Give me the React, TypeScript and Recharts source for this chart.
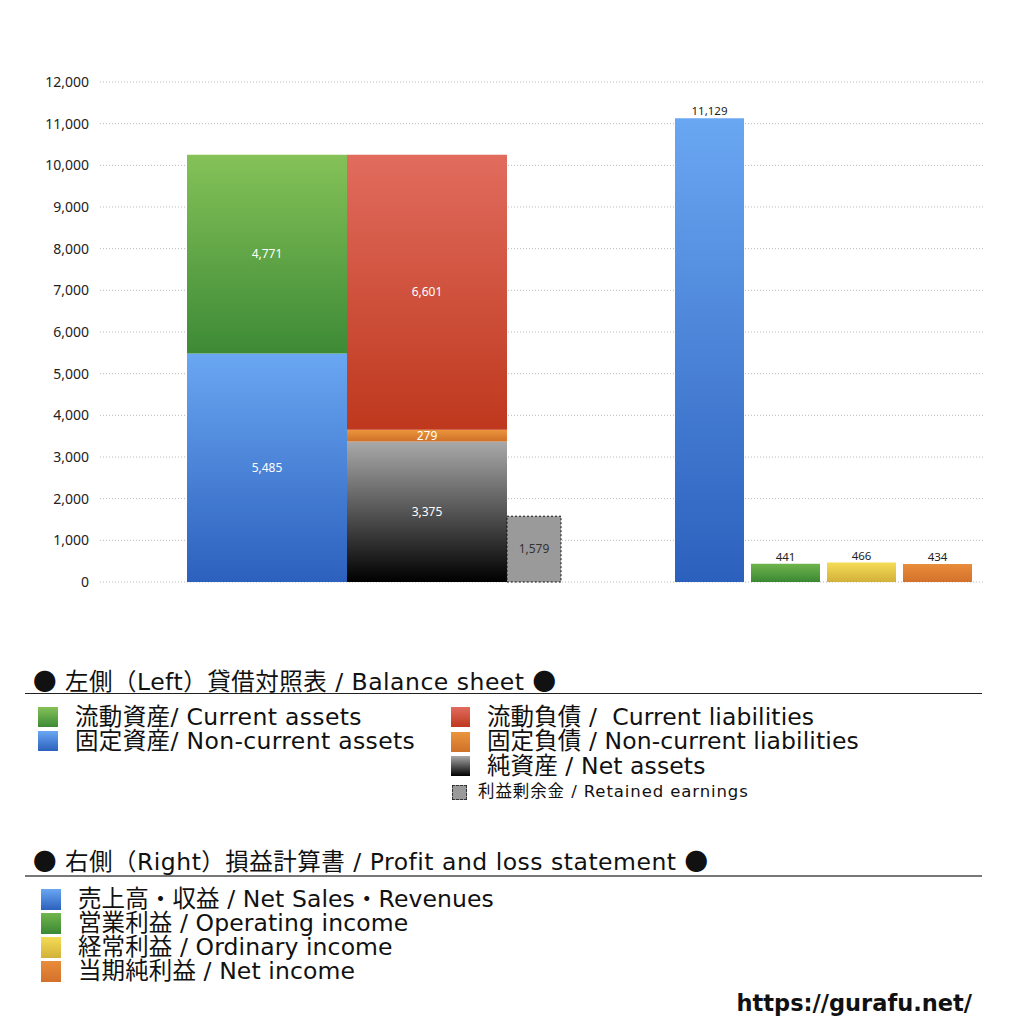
import React from 'react';
import { BarChart, Bar, XAxis, YAxis, CartesianGrid, LabelList } from 'recharts';

const categories = ['BS / PL'];
const nonCurrentAssets = [5485];
const currentAssets = [4771];
const netAssets = [3375];
const nonCurrentLiabilities = [279];
const currentLiabilities = [6601];
const retainedEarnings = [1579];
const netSales = [11129];
const operatingIncome = [441];
const ordinaryIncome = [466];
const netIncome = [434];
const yTicks = [0, 1000, 2000, 3000, 4000, 5000, 6000, 7000, 8000, 9000, 10000, 11000, 12000];

const headingLeft = '左側（Left）貸借対照表 / Balance sheet';
const headingRight = '右側（Right）損益計算書 / Profit and loss statement';
const leftColLabels = ['流動資産/ Current assets', '固定資産/ Non-current assets'];
const rightColLabels = ['流動負債 /  Current liabilities', '固定負債 / Non-current liabilities', '純資産 / Net assets'];
const retainedLabel = '利益剰余金 / Retained earnings';
const plLabels = ['売上高・収益 / Net Sales・Revenues', '営業利益 / Operating income', '経常利益 / Ordinary income', '当期純利益 / Net income'];
const footer = 'https://gurafu.net/';

const data = categories.map((name, i) => ({
  name,
  nonCurrentAssets: nonCurrentAssets[i],
  currentAssets: currentAssets[i],
  netAssets: netAssets[i],
  nonCurrentLiabilities: nonCurrentLiabilities[i],
  currentLiabilities: currentLiabilities[i],
  retainedEarnings: retainedEarnings[i],
  netSales: netSales[i],
  operatingIncome: operatingIncome[i],
  ordinaryIncome: ordinaryIncome[i],
  netIncome: netIncome[i],
}));

const fmt = (v: any) => Number(v).toLocaleString('en-US');
const FONT = '"Noto Sans", "Noto Sans CJK JP", sans-serif';
const LFONT = '"DejaVu Sans", "Noto Sans CJK JP", sans-serif';
const CJK = '"Noto Sans CJK JP", sans-serif';
const zero = () => 0;

const grads: [string, string, string][] = [
  ['gGreen', '#85c258', '#3d8a36'],
  ['gBlue', '#6aa7f2', '#2c60bd'],
  ['gRed', '#e16c5e', '#be381d'],
  ['gOrange', '#eb953c', '#cf7129'],
  ['gBlack', '#a9a9a9', '#000000'],
  ['gGreen2', '#70b54d', '#3b8834'],
  ['gYellow', '#f4dc55', '#d2b13a'],
  ['gOrange2', '#e98c3b', '#d3712b'],
];

const swatch = (grad: string) => {
  const g = grads.find((x) => x[0] === grad)!;
  return `linear-gradient(to bottom, ${g[1]}, ${g[2]})`;
};

const leftSw = ['gGreen', 'gBlue'];
const rightSw = ['gRed', 'gOrange', 'gBlack'];
const plSw = ['gBlue', 'gGreen2', 'gYellow', 'gOrange2'];

const Spacer = (id: string, size: number) => (
  <Bar key={id} dataKey={zero} stackId={id} barSize={size} fill="none" isAnimationActive={false} />
);

const Dot = () => <span style={{ fontFamily: CJK }}>●</span>;

const textStyle: React.CSSProperties = { fontFamily: LFONT, letterSpacing: 0.35, color: '#111' };

export default function App() {
  return (
    <div style={{ position: 'absolute', left: 0, top: 0, width: 1024, height: 1024, background: '#fff', fontFamily: FONT, color: '#111' }}>
      <div style={{ position: 'absolute', left: 0, top: 0 }}>
        <BarChart width={1024} height={620} data={data} margin={{ top: 82, right: 39, left: 0, bottom: 38 }} barGap={0} barCategoryGap={0}>
          <defs>
            {grads.map(([id, a, b]) => (
              <linearGradient key={id} id={id} x1="0" y1="0" x2="0" y2="1">
                <stop offset="0%" stopColor={a} />
                <stop offset="100%" stopColor={b} />
              </linearGradient>
            ))}
          </defs>
          <CartesianGrid vertical={false} stroke="#b8b8b8" strokeDasharray="1 2" />
          <XAxis dataKey="name" hide />
          <YAxis
            width={100}
            domain={[0, 12000]}
            ticks={yTicks}
            interval={0}
            axisLine={false}
            tickLine={false}
            tickMargin={5}
            tickFormatter={fmt}
            tick={{ fill: '#222', fontSize: 14, fontFamily: FONT }}
          />
          {Spacer('s0', 74)}
          <Bar dataKey="nonCurrentAssets" stackId="a" barSize={160} fill="url(#gBlue)" isAnimationActive={false}>
            <LabelList dataKey="nonCurrentAssets" position="center" fill="#fff" fontSize={12} formatter={fmt} />
          </Bar>
          <Bar dataKey="currentAssets" stackId="a" barSize={160} fill="url(#gGreen)" isAnimationActive={false}>
            <LabelList dataKey="currentAssets" position="center" fill="#fff" fontSize={12} formatter={fmt} />
          </Bar>
          <Bar dataKey="netAssets" stackId="b" barSize={160} fill="url(#gBlack)" isAnimationActive={false}>
            <LabelList dataKey="netAssets" position="center" fill="#fff" fontSize={12} formatter={fmt} />
          </Bar>
          <Bar dataKey="nonCurrentLiabilities" stackId="b" barSize={160} fill="url(#gOrange)" isAnimationActive={false}>
            <LabelList dataKey="nonCurrentLiabilities" position="center" fill="#fff" fontSize={12} formatter={fmt} />
          </Bar>
          <Bar dataKey="currentLiabilities" stackId="b" barSize={160} fill="url(#gRed)" isAnimationActive={false}>
            <LabelList dataKey="currentLiabilities" position="center" fill="#fff" fontSize={12} formatter={fmt} />
          </Bar>
          <Bar dataKey="retainedEarnings" stackId="c" barSize={54} fill="#9a9a9a" stroke="#111" strokeWidth={1} strokeDasharray="2 2" isAnimationActive={false}>
            <LabelList dataKey="retainedEarnings" position="center" fill="#333" stroke="none" fontSize={12} formatter={fmt} />
          </Bar>
          {Spacer('s1', 114)}
          <Bar dataKey="netSales" stackId="d" barSize={69} fill="url(#gBlue)" isAnimationActive={false}>
            <LabelList dataKey="netSales" position="top" offset={3} fill="#222" fontSize={11.5} formatter={fmt} />
          </Bar>
          {Spacer('s2', 7)}
          <Bar dataKey="operatingIncome" stackId="e" barSize={69} fill="url(#gGreen2)" isAnimationActive={false}>
            <LabelList dataKey="operatingIncome" position="top" offset={3} fill="#222" fontSize={11.5} formatter={fmt} />
          </Bar>
          {Spacer('s3', 7)}
          <Bar dataKey="ordinaryIncome" stackId="f" barSize={69} fill="url(#gYellow)" isAnimationActive={false}>
            <LabelList dataKey="ordinaryIncome" position="top" offset={3} fill="#222" fontSize={11.5} formatter={fmt} />
          </Bar>
          {Spacer('s4', 7)}
          <Bar dataKey="netIncome" stackId="g" barSize={69} fill="url(#gOrange2)" isAnimationActive={false}>
            <LabelList dataKey="netIncome" position="top" offset={3} fill="#222" fontSize={11.5} formatter={fmt} />
          </Bar>
        </BarChart>
      </div>

      {/* Balance sheet legend */}
      <div style={{ ...textStyle, position: 'absolute', left: 33, top: 666, fontSize: 23.5, lineHeight: '28px', whiteSpace: 'nowrap', letterSpacing: 0.5 }}>
        <Dot /> {headingLeft} <Dot />
      </div>
      <div style={{ position: 'absolute', left: 25, top: 693, width: 957, borderTop: '1.5px solid #222' }} />
      {leftColLabels.map((t, i) => (
        <div key={t} style={{ position: 'absolute', left: 38, top: 705 + i * 24, height: 24, display: 'flex', alignItems: 'center', whiteSpace: 'nowrap' }}>
          <div style={{ width: 20, height: 20, background: swatch(leftSw[i]) }} />
          <span style={{ ...textStyle, marginLeft: 17, fontSize: 23.5, lineHeight: '23px' }}>{t}</span>
        </div>
      ))}
      {rightColLabels.map((t, i) => (
        <div key={t} style={{ position: 'absolute', left: 451, top: 705 + i * 24.5, height: 24, display: 'flex', alignItems: 'center', whiteSpace: 'pre' }}>
          <div style={{ width: 19, height: 20, background: swatch(rightSw[i]) }} />
          <span style={{ ...textStyle, marginLeft: 17, fontSize: 23.5, lineHeight: '23px', letterSpacing: 0.1 }}>{t}</span>
        </div>
      ))}
      <div style={{ position: 'absolute', left: 452, top: 782, height: 20, display: 'flex', alignItems: 'center', whiteSpace: 'nowrap' }}>
        <div style={{ width: 13, height: 13, background: '#9a9a9a', border: '1px dashed #333' }} />
        <span style={{ ...textStyle, marginLeft: 11, fontSize: 16.5, lineHeight: '20px', letterSpacing: 0.9 }}>{retainedLabel}</span>
      </div>

      {/* P&L legend */}
      <div style={{ ...textStyle, position: 'absolute', left: 33, top: 846, fontSize: 23.5, lineHeight: '28px', whiteSpace: 'nowrap', letterSpacing: 0.5 }}>
        <Dot /> {headingRight} <Dot />
      </div>
      <div style={{ position: 'absolute', left: 25, top: 875, width: 957, borderTop: '2px solid #777' }} />
      {plLabels.map((t, i) => (
        <div key={t} style={{ position: 'absolute', left: 41, top: 887 + i * 24, height: 24, display: 'flex', alignItems: 'center', whiteSpace: 'nowrap' }}>
          <div style={{ width: 20, height: 21, background: swatch(plSw[i]) }} />
          <span style={{ ...textStyle, marginLeft: 17, fontSize: 23.5, lineHeight: '23px', letterSpacing: 0.1 }}>{t}</span>
        </div>
      ))}

      <div style={{ position: 'absolute', right: 52, top: 988, fontSize: 22.5, fontWeight: 700, fontFamily: '"DejaVu Sans", sans-serif', lineHeight: '30px', color: '#111' }}>{footer}</div>
    </div>
  );
}
